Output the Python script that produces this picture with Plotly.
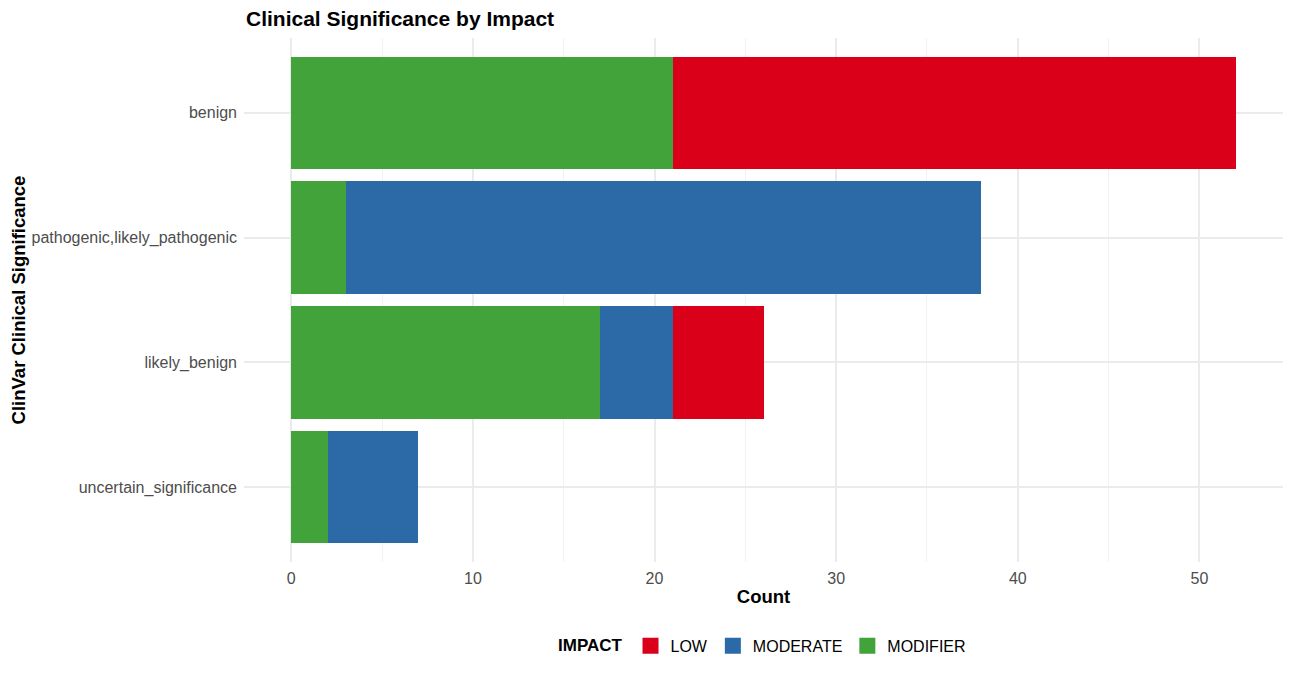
import plotly.graph_objects as go

categories = ["uncertain_significance", "likely_benign", "pathogenic,likely_pathogenic", "benign"]
modifier = [2, 17, 3, 21]
moderate = [5, 4, 35, 0]
low = [0, 5, 0, 31]
x_ticks = [0, 10, 20, 30, 40, 50]
legend_order = ["LOW", "MODERATE", "MODIFIER"]

colors = {"LOW": "#DB0019", "MODERATE": "#2C69A7", "MODIFIER": "#42A33A"}

fig = go.Figure()
for name, vals in [("MODIFIER", modifier), ("MODERATE", moderate), ("LOW", low)]:
    fig.add_trace(go.Bar(
        y=categories, x=vals, name=name, orientation="h",
        marker=dict(color=colors[name], line=dict(width=0)),
        width=0.9, showlegend=False, legendgroup=name,
    ))
# legend proxies (square keys)
for name in legend_order:
    fig.add_trace(go.Scatter(
        x=[None], y=[None], mode="markers", name=name, legendgroup=name,
        marker=dict(symbol="square", size=20, color=colors[name]),
    ))

W, H = 1284, 668
font = "Liberation Sans, Arial, sans-serif"
fig.update_layout(
    barmode="stack",
    width=W, height=H,
    margin=dict(l=236, r=9, t=30, b=114),
    plot_bgcolor="white", paper_bgcolor="white",
    font=dict(family=font, size=16, color="#4D4D4D"),
    title=dict(text="<b>Clinical Significance by Impact</b>", x=238/W, xanchor="left",
               y=1-11/H, yanchor="middle", font=dict(size=21, color="black")),
    xaxis=dict(range=[-2.6, 54.6], tickvals=x_ticks, showgrid=True, gridcolor="#EBEBEB",
               gridwidth=1.5, zeroline=False, ticks="", automargin=False, ticklabelstandoff=5,
               title=dict(text="<b>Count</b>", font=dict(size=18.5, color="black"), standoff=4),
               minor=dict(dtick=5, tick0=5, showgrid=True, gridcolor="#F2F2F2", gridwidth=1)),
    yaxis=dict(categoryorder="array", categoryarray=categories, range=[-0.6, 3.6],
               showgrid=True, gridcolor="#EBEBEB", gridwidth=1.5, zeroline=False,
               ticks="", ticklabelstandoff=6, automargin=False,
               title=dict(text="<b>ClinVar Clinical Significance</b>", font=dict(size=18.5, color="black"), standoff=1)),
    legend=dict(orientation="h", x=0.5, xanchor="center", y=-0.16, yanchor="middle",
                title=dict(text="<b>IMPACT</b>", font=dict(size=17, color="black")),
                font=dict(size=16, color="black"), itemsizing="trace", traceorder="normal"),
)

fig.write_html("out.html")
